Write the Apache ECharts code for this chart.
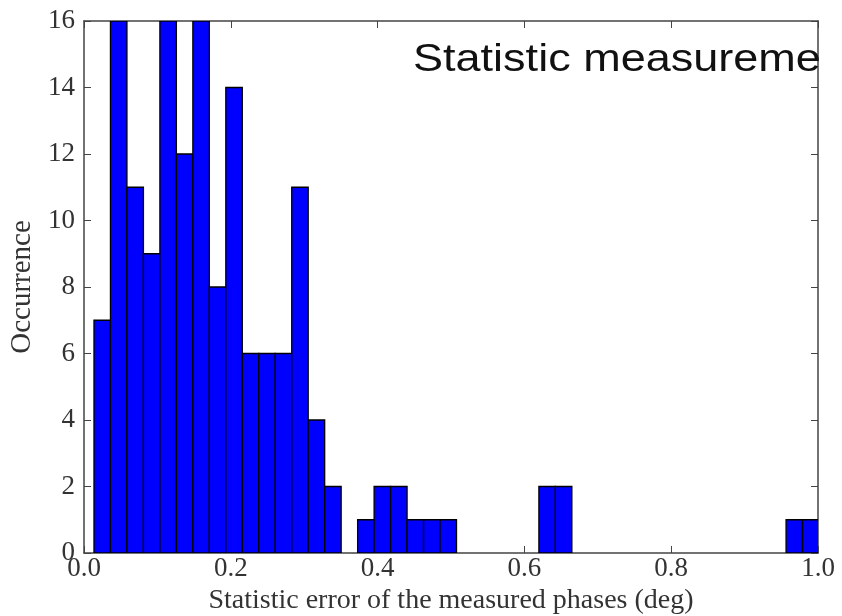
<!DOCTYPE html>
<html lang="en">
<head>
    <meta charset="UTF-8">
    <title>Statistic error histogram</title>
    <script src="https://cdn.jsdelivr.net/npm/echarts@6/dist/echarts.min.js"></script>
</head>
<body style="margin:0;background:#fff;">
    <div id="box" style="width:842px;height:616px;"></div>
<script>
    // histogram bins: first edge, width, and counts per bin
    var binStart = 0.0136;
    var binWidth = 0.02245;
    var counts = [7, 16, 11, 9, 16, 12, 16, 8, 14, 6, 6, 6, 11, 4, 2, 0, 1, 2, 2, 1, 1, 1,
        0, 0, 0, 0, 0, 2, 2, 0, 0, 0, 0, 0, 0, 0, 0, 0, 0, 0, 0, 0, 1, 1];
    var xTicks = [0.0, 0.2, 0.4, 0.6, 0.8, 1.0];
    var yTicks = [0, 2, 4, 6, 8, 10, 12, 14, 16];
    var xName = 'Statistic error of the measured phases (deg)';
    var yName = 'Occurrence';
    var overlayText = 'Statistic measurement';

    var bins = counts.map(function (c, i) {
        return [binStart + i * binWidth, binStart + (i + 1) * binWidth, c];
    });

    var serif = 'Liberation Serif';
    var box = echarts.init(document.getElementById('box'));

    function frameAxis(pos, showLabel) {
        return {
            type: 'value',
            position: pos,
            axisLine: { show: true, onZero: false, lineStyle: { color: '#444', width: 1.5 } },
            axisTick: { show: true, inside: true, length: 7, lineStyle: { color: '#444', width: 1 } },
            splitLine: { show: false },
            axisLabel: { show: showLabel, color: '#333', fontFamily: serif, fontSize: 27 }
        };
    }

    var xBottom = frameAxis('bottom', true);
    xBottom.min = xTicks[0];
    xBottom.max = xTicks[xTicks.length - 1];
    xBottom.interval = 0.2;
    xBottom.axisLabel.margin = 2;
    xBottom.axisLabel.formatter = function (v) { return v.toFixed(1); };
    xBottom.name = xName;
    xBottom.nameLocation = 'middle';
    xBottom.nameGap = 32;
    xBottom.nameTextStyle = { color: '#333', fontFamily: serif, fontSize: 28 };

    var xTop = frameAxis('top', false);
    xTop.min = xBottom.min; xTop.max = xBottom.max; xTop.interval = 0.2;

    var yLeft = frameAxis('left', true);
    yLeft.min = yTicks[0];
    yLeft.max = yTicks[yTicks.length - 1];
    yLeft.interval = 2;
    yLeft.axisLabel.margin = 9;
    yLeft.name = yName;
    yLeft.nameLocation = 'middle';
    yLeft.nameGap = 46;
    yLeft.nameTextStyle = { color: '#333', fontFamily: serif, fontSize: 29 };

    var yRight = frameAxis('right', false);
    yRight.min = yLeft.min; yRight.max = yLeft.max; yRight.interval = 2;

    var option = {
        backgroundColor: '#fff',
        animation: false,
        grid: { left: 84, right: 24, top: 21, bottom: 63, outerBoundsMode: 'none' },
        xAxis: [xBottom, xTop],
        yAxis: [yLeft, yRight],
        graphic: [
            {
                type: 'text', x: 413, y: 42, z: 10, scaleX: 1.185,
                style: { text: overlayText, fill: '#111', font: '38px "Liberation Sans", Arial, sans-serif' }
            },
            {
                // text runs off the right edge of the frame in the original
                type: 'rect', left: 820, top: 28, z: 11,
                shape: { width: 30, height: 70 },
                style: { fill: '#fff' }
            }
        ],
        series: [
            {
                type: 'custom',
                xAxisIndex: 0,
                yAxisIndex: 0,
                clip: true,
                data: bins,
                renderItem: function (params, api) {
                    if (api.value(2) <= 0) return null;
                    var p0 = api.coord([api.value(0), 0]);
                    var p1 = api.coord([api.value(1), api.value(2)]);
                    return {
                        type: 'rect',
                        shape: { x: p0[0], y: p1[1], width: p1[0] - p0[0], height: p0[1] - p1[1] },
                        style: { fill: '#0000ff', stroke: '#000', lineWidth: 1.3 }
                    };
                }
            }
        ]
    };
    box.setOption(option);
</script>
</body>
</html>
